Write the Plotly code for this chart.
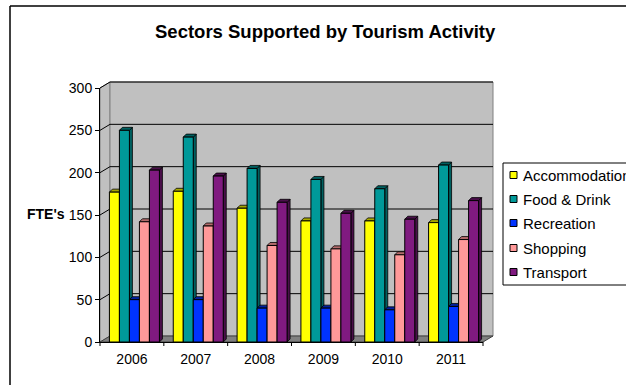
import plotly.graph_objects as go

years = ["2006", "2007", "2008", "2009", "2010", "2011"]
series_names = ["Accommodation", "Food & Drink", "Recreation", "Shopping", "Transport"]
accommodation = [177, 178, 158, 143, 143, 141]
food_drink = [250, 242, 205, 192, 181, 209]
recreation = [50, 50, 40, 40, 38, 42]
shopping = [142, 137, 114, 110, 103, 121]
transport = [203, 196, 165, 152, 145, 167]
y_ticks = [0, 50, 100, 150, 200, 250, 300]

series_values = [accommodation, food_drink, recreation, shopping, transport]
front_colors = ["#FFFF00", "#009999", "#0033FF", "#FF9999", "#801A80"]
side_colors = ["#A6A600", "#006060", "#0020A0", "#B36B6B", "#4A0F4A"]

FONT = "Arial, Liberation Sans, sans-serif"

# geometry (pixels)
W, H = 626, 385
L, R, T, B = 100, 483, 88, 342
PW, PH = R - L, B - T
DX, DY = 10, 6          # wall depth
n = len(years)
unit = PW / n           # px per category
ymax = 300
yscale = PH / ymax

def px(x):
    return (x - L) / PW

def py(y):
    return (B - y) / PH

fig = go.Figure()

bar_w = 10 / unit
shift = 2.5 / unit
bdx = 3 / unit
bdy = 3 / yscale
xs = list(range(n))

shapes = []
# left wall
shapes.append(dict(type="path", xref="paper", yref="paper", layer="below",
                   path=f"M {px(L)},{py(T)} L {px(L+DX)},{py(T-DY)} L {px(L+DX)},{py(B-DY)} L {px(L)},{py(B)} Z",
                   fillcolor="#C0C0C0", line=dict(color="#808080", width=1)))
# back wall
shapes.append(dict(type="rect", xref="paper", yref="paper", layer="below",
                   x0=px(L+DX), x1=px(R+DX), y0=py(B-DY), y1=py(T-DY),
                   fillcolor="#C0C0C0", line=dict(color="#808080", width=1)))
# floor
shapes.append(dict(type="path", xref="paper", yref="paper", layer="below",
                   path=f"M {px(L)},{py(B)} L {px(R)},{py(B)} L {px(R+DX)},{py(B-DY)} L {px(L+DX)},{py(B-DY)} Z",
                   fillcolor="#808080", line=dict(color="#404040", width=1)))
# gridlines on walls
for v in y_ticks[1:]:
    yy = B - v * yscale
    shapes.append(dict(type="line", xref="paper", yref="paper", layer="below",
                       x0=px(L+DX), x1=px(R+DX), y0=py(yy-DY), y1=py(yy-DY),
                       line=dict(color="black", width=1)))
    shapes.append(dict(type="line", xref="paper", yref="paper", layer="below",
                       x0=px(L), x1=px(L+DX), y0=py(yy), y1=py(yy-DY),
                       line=dict(color="black", width=1)))

# bars (front faces) + 3D faces
for k, (name, vals) in enumerate(zip(series_names, series_values)):
    off = -2.5 * bar_w + k * bar_w + shift
    fig.add_trace(go.Bar(
        x=xs, y=vals, name=name, width=bar_w, offset=off,
        marker=dict(color=front_colors[k], line=dict(color="black", width=1)),
        showlegend=False))
    for i, v in enumerate(vals):
        x0 = i + off
        x1 = x0 + bar_w
        # side face
        shapes.append(dict(type="path", xref="x", yref="y", layer="below",
                           path=f"M {x1},{0} L {x1+bdx},{bdy} L {x1+bdx},{v+bdy} L {x1},{v} Z",
                           fillcolor=side_colors[k], line=dict(color="black", width=0.8)))
        # top face
        shapes.append(dict(type="path", xref="x", yref="y", layer="below",
                           path=f"M {x0},{v} L {x1},{v} L {x1+bdx},{v+bdy} L {x0+bdx},{v+bdy} Z",
                           fillcolor=side_colors[k], line=dict(color="black", width=0.8)))

# x category boundary ticks
for i in range(n + 1):
    xb = L + i * unit
    shapes.append(dict(type="line", xref="paper", yref="paper",
                       x0=px(xb), x1=px(xb), y0=py(B), y1=py(B + 4),
                       line=dict(color="black", width=1)))

# outer chart border
shapes.append(dict(type="line", xref="paper", yref="paper",
                   x0=px(10), x1=px(W + 5), y0=py(6), y1=py(6),
                   line=dict(color="black", width=1.5)))
shapes.append(dict(type="line", xref="paper", yref="paper",
                   x0=px(10), x1=px(10), y0=py(6), y1=py(H + 5),
                   line=dict(color="black", width=1.5)))

# legend (manual)
LX0, LY0, LY1 = 503, 163, 285
shapes.append(dict(type="rect", xref="paper", yref="paper",
                   x0=px(LX0), x1=px(W + 20), y0=py(LY1), y1=py(LY0),
                   fillcolor="white", line=dict(color="black", width=1)))
annotations = []
row_y = [175, 199, 223, 248, 272]
for k, name in enumerate(series_names):
    cy = row_y[k]
    shapes.append(dict(type="rect", xref="paper", yref="paper",
                       x0=px(510), x1=px(517), y0=py(cy + 3.5), y1=py(cy - 3.5),
                       fillcolor=front_colors[k], line=dict(color="black", width=1)))
    annotations.append(dict(xref="paper", yref="paper", x=px(521), y=py(cy),
                            text=name, showarrow=False, xanchor="left", yanchor="middle",
                            font=dict(family=FONT, size=15, color="black")))

annotations.append(dict(xref="paper", yref="paper", x=px(325), y=py(32),
                        text="<b>Sectors Supported by Tourism Activity</b>", showarrow=False,
                        xanchor="center", yanchor="middle",
                        font=dict(family=FONT, size=18.5, color="black")))
annotations.append(dict(xref="paper", yref="paper", x=px(46), y=py(214),
                        text="<b>FTE's</b>", showarrow=False,
                        xanchor="center", yanchor="middle",
                        font=dict(family=FONT, size=14, color="black")))

fig.update_layout(
    width=W, height=H,
    margin=dict(l=L, r=W - R, t=T, b=H - B),
    paper_bgcolor="white", plot_bgcolor="rgba(0,0,0,0)",
    showlegend=False,
    shapes=shapes, annotations=annotations,
    xaxis=dict(range=[-0.5, n - 0.5], tickvals=xs, ticktext=years, ticks="",
               showgrid=False, zeroline=False, showline=True, linecolor="black", linewidth=1,
               tickfont=dict(family=FONT, size=14, color="black"), ticklabelstandoff=4),
    yaxis=dict(range=[0, ymax], tickvals=y_ticks, ticks="outside", ticklen=4, tickcolor="black",
               showgrid=False, zeroline=False, showline=True, linecolor="black", linewidth=1,
               tickfont=dict(family=FONT, size=14, color="black")),
)

fig.write_html("out.html")
